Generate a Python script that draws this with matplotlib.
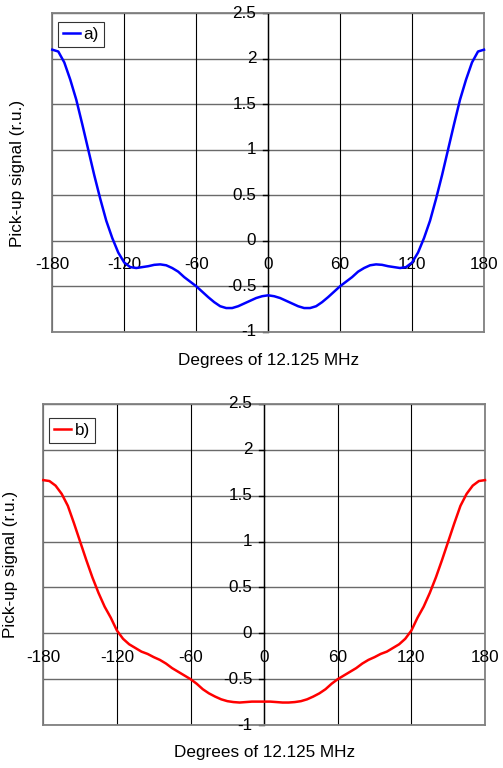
import matplotlib
matplotlib.use("Agg")
import matplotlib.pyplot as plt
import numpy as np

plt.rcParams['font.family'] = ['Liberation Sans', 'DejaVu Sans']

degrees = list(range(-180, 181, 5))

signal_a = [2.10, 2.08, 1.96, 1.77, 1.55, 1.28, 1.00, 0.72, 0.46, 0.22, 0.03, -0.13,
            -0.24, -0.29, -0.30, -0.29, -0.28, -0.265, -0.26, -0.27, -0.30, -0.34, -0.40, -0.45,
            -0.50, -0.56, -0.62, -0.675, -0.72, -0.74, -0.74, -0.72, -0.69, -0.66, -0.63, -0.61,
            -0.60,
            -0.61, -0.63, -0.66, -0.69, -0.72, -0.74, -0.74, -0.72, -0.675, -0.62, -0.56, -0.50,
            -0.45, -0.40, -0.34, -0.30, -0.27, -0.26, -0.265, -0.28, -0.29, -0.30, -0.29, -0.24,
            -0.13, 0.03, 0.22, 0.46, 0.72, 1.00, 1.28, 1.55, 1.77, 1.96, 2.08, 2.10]

signal_b = [1.67, 1.66, 1.61, 1.52, 1.39, 1.20, 1.00, 0.80, 0.61, 0.44, 0.29, 0.17,
            0.03, -0.06, -0.12, -0.16, -0.20, -0.225, -0.26, -0.29, -0.33, -0.38, -0.42, -0.46,
            -0.50, -0.55, -0.61, -0.655, -0.69, -0.72, -0.74, -0.75, -0.755, -0.75, -0.745, -0.745,
            -0.745,
            -0.745, -0.75, -0.755, -0.755, -0.75, -0.74, -0.72, -0.69, -0.655, -0.61, -0.55, -0.50,
            -0.46, -0.42, -0.38, -0.33, -0.29, -0.26, -0.225, -0.20, -0.16, -0.12, -0.06, 0.03,
            0.17, 0.29, 0.44, 0.61, 0.80, 1.00, 1.20, 1.39, 1.52, 1.61, 1.66, 1.67]

x_ticks = [-180, -120, -60, 0, 60, 120, 180]
x_tick_labels = ["-180", "-120", "-60", "0", "60", "120", "180"]
y_ticks = [-1, -0.5, 0, 0.5, 1, 1.5, 2, 2.5]
y_tick_labels = ["-1", "-0.5", "0", "0.5", "1", "1.5", "2", "2.5"]

xlabel = "Degrees of 12.125 MHz"
ylabel = "Pick-up signal (r.u.)"

W, H = 503, 768
fig = plt.figure(figsize=(W / 100, H / 100), dpi=100)

FS = 12.3
GRAY = '#6a6a6a'


def make_panel(rect, y, color, label, leg_anchor, xlab_pos, ylab_pos):
    ax = fig.add_axes(rect)
    ax.set_xlim(-180, 180)
    ax.set_ylim(-1, 2.5)
    for yt in y_ticks:
        ax.axhline(yt, color=GRAY, lw=1.0, zorder=1)
    for xt in x_ticks:
        ax.axvline(xt, color='black', lw=0.8, zorder=1)
    for s in ax.spines.values():
        s.set_color('#808080')
        s.set_linewidth(1.3)
    ax.set_xticks([])
    ax.set_yticks([])
    ax.axvline(0, color='black', lw=1.0, zorder=2)
    for yt, lab in zip(y_ticks, y_tick_labels):
        ax.plot([-4.5, 0], [yt, yt], color='black', lw=1.0, zorder=2, clip_on=False)
        ax.annotate(lab, xy=(0, yt), xytext=(-12, 0), textcoords='offset pixels',
                    ha='right', va='center', fontsize=FS, zorder=3, annotation_clip=False)
    for xt, lab in zip(x_ticks, x_tick_labels):
        ax.annotate(lab, xy=(xt, 0), xytext=(0, -24), textcoords='offset pixels',
                    ha='center', va='center', fontsize=FS, zorder=3, annotation_clip=False)
    ax.plot(degrees, y, color=color, lw=1.8, zorder=4, label=label, clip_on=False)
    leg = ax.legend(loc='upper left', bbox_to_anchor=leg_anchor, borderaxespad=0,
                    fontsize=FS, frameon=True, fancybox=False, handlelength=1.0,
                    handletextpad=0.2, borderpad=0.3)
    leg.get_frame().set_edgecolor('black')
    leg.get_frame().set_linewidth(0.8)
    fig.text(xlab_pos[0] / W, 1 - xlab_pos[1] / H, xlabel, ha='center', va='center', fontsize=FS)
    fig.text(ylab_pos[0] / W, 1 - ylab_pos[1] / H, ylabel, ha='center', va='center',
             rotation=90, fontsize=FS)
    return ax


make_panel([52.3 / W, 1 - 331.7 / H, 431.7 / W, 318.4 / H], signal_a, '#0000ff', 'a)',
           (0.013, 0.973), (268.5, 360), (18, 173))
make_panel([43.3 / W, 1 - 725 / H, 441.7 / W, 321 / H], signal_b, '#ff0000', 'b)',
           (0.013, 0.956), (265, 753), (10.5, 564))

fig.savefig('out.png', dpi=100)
